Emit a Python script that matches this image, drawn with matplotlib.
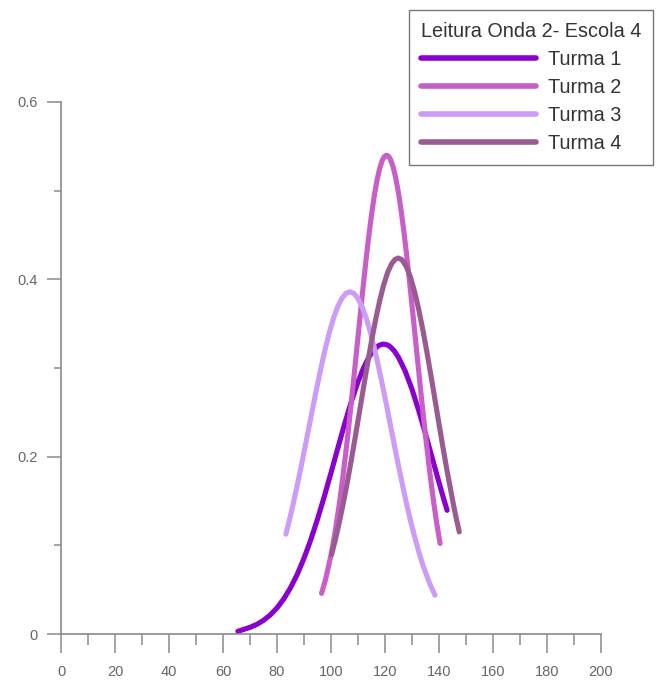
import matplotlib
matplotlib.use("Agg")
import matplotlib.pyplot as plt
from matplotlib.ticker import MultipleLocator, FuncFormatter

plt.rcParams['font.family'] = ['Liberation Sans', 'DejaVu Sans']

legend_title = "Leitura Onda 2- Escola 4"
series_names = ["Turma 1", "Turma 2", "Turma 3", "Turma 4"]
series_colors = ["#8a00cc", "#c95ec9", "#cc9cf7", "#9a5a92"]

turma1_x = [65.5, 67.5, 70, 72.5, 75, 77.5, 80, 82.5, 85, 87.5, 90, 92.5, 95, 97.5, 100, 102.5, 105,
            107.5, 110, 112, 114, 115.5, 117, 118, 119.5, 121, 122, 123.5, 125, 127.5, 130, 132.5,
            135, 137.5, 140, 141.5, 143]
turma1_y = [0.003, 0.005, 0.0075, 0.0108, 0.0154, 0.0215, 0.0294, 0.0395, 0.0521, 0.0673, 0.0854,
            0.1062, 0.1295, 0.1549, 0.1818, 0.2093, 0.2365, 0.2618, 0.2845, 0.2998, 0.312, 0.319,
            0.3238, 0.3259, 0.327, 0.3259, 0.3238, 0.319, 0.312, 0.2963, 0.276, 0.2519, 0.2257,
            0.1983, 0.171, 0.1549, 0.1395]

turma2_x = [96.5, 98, 100, 101.5, 103, 104.5, 106, 107.5, 109, 110.5, 112, 113, 114, 115, 116, 117, 118,
            119, 119.8, 120.6, 121.4, 122, 123, 124, 125, 126, 127, 128, 129, 130.5, 132, 133.5, 135,
            136.5, 138, 139, 140.4]
turma2_y = [0.0458, 0.0617, 0.089, 0.1147, 0.1448, 0.1796, 0.2183, 0.2605, 0.3049, 0.3501, 0.3944,
            0.4225, 0.4488, 0.4727, 0.4936, 0.5111, 0.5247, 0.5342, 0.5385, 0.540, 0.5385, 0.5355,
            0.5269, 0.5141, 0.4974, 0.4771, 0.4536, 0.428, 0.4001, 0.3561, 0.3109, 0.2663, 0.2238,
            0.1845, 0.1492, 0.1281, 0.1021]

turma3_x = [83.3, 84.5, 86, 87.5, 89, 90.5, 92, 93.5, 95, 96.5, 98, 99.5, 101, 102.5, 104, 105.5, 107,
            108.5, 110, 111.5, 113, 114.5, 116, 117.5, 119, 120.5, 122, 123.5, 125, 126.5, 128, 129.5,
            131, 132.5, 134, 136.5, 138.5]
turma3_y = [0.1126, 0.1272, 0.1467, 0.1677, 0.1897, 0.2125, 0.2357, 0.2589, 0.2815, 0.3031, 0.3232,
            0.3412, 0.3567, 0.3692, 0.3784, 0.3841, 0.386, 0.3841, 0.3784, 0.3692, 0.3567, 0.3412,
            0.3232, 0.3031, 0.2815, 0.2589, 0.2357, 0.2125, 0.1897, 0.1677, 0.1467, 0.1272, 0.1092,
            0.0928, 0.078, 0.0573, 0.0438]

turma4_x = [100.2, 101.5, 103, 104.5, 106, 107.5, 109, 110.5, 112, 113.5, 115, 116.5, 118, 119.5, 121,
            122.5, 123.7, 124.9, 126.1, 126.5, 128, 129.5, 131, 132.5, 134, 135.5, 137, 138.5, 140,
            141.5, 143, 145.5, 146.5, 147.5]
turma4_y = [0.0894, 0.1049, 0.1248, 0.1467, 0.1705, 0.1958, 0.2225, 0.2498, 0.2773, 0.3043, 0.3302,
            0.3542, 0.3755, 0.3936, 0.4079, 0.4178, 0.4224, 0.424, 0.4224, 0.4212, 0.4137, 0.4017,
            0.3856, 0.3659, 0.3433, 0.3183, 0.2918, 0.2645, 0.237, 0.2099, 0.1838, 0.1436, 0.129,
            0.1152]

xs = [turma1_x, turma2_x, turma3_x, turma4_x]
ys = [turma1_y, turma2_y, turma3_y, turma4_y]

W, H = 663, 686
fig = plt.figure(figsize=(W / 100, H / 100), dpi=100)
ax = fig.add_axes([61 / W, (H - 634) / H, 540 / W, 532 / H])

for x, y, c, n in zip(xs, ys, series_colors, series_names):
    ax.plot(x, y, color=c, lw=3.7, solid_capstyle='round', solid_joinstyle='round', label=n)

ax.set_xlim(0, 200)
ax.set_ylim(0, 0.6)
ax.xaxis.set_major_locator(MultipleLocator(20))
ax.xaxis.set_minor_locator(MultipleLocator(10))
ax.yaxis.set_major_locator(MultipleLocator(0.2))
ax.yaxis.set_minor_locator(MultipleLocator(0.1))
ax.xaxis.set_major_formatter(FuncFormatter(lambda v, p: f"{v:g}"))
ax.yaxis.set_major_formatter(FuncFormatter(lambda v, p: f"{v:g}"))

gray = "#8a8a8a"
for s in ["top", "right"]:
    ax.spines[s].set_visible(False)
for s in ["left", "bottom"]:
    ax.spines[s].set_color(gray)
    ax.spines[s].set_linewidth(1.2)

ax.tick_params(axis='x', which='major', direction='out', length=14, width=1.1, color=gray,
               labelsize=10.5, labelcolor="#666666", pad=8)
ax.tick_params(axis='x', which='minor', direction='out', length=8, width=1.1, color=gray)
ax.tick_params(axis='y', which='major', direction='out', length=10, width=1.1, color=gray,
               labelsize=10.5, labelcolor="#666666", pad=7)
ax.tick_params(axis='y', which='minor', direction='out', length=5, width=1.1, color=gray)

leg = ax.legend(title=legend_title, loc='upper right', alignment='left',
                bbox_to_anchor=(653 / W, 1 - 10 / H), bbox_transform=fig.transFigure,
                borderaxespad=0, fancybox=False, frameon=True, fontsize=14.3,
                title_fontsize=14.3, handlelength=5.8, handletextpad=0.6,
                labelspacing=0.45, borderpad=0.6)
leg.get_frame().set_edgecolor("#555555")
leg.get_frame().set_linewidth(1.0)
for t in leg.get_texts():
    t.set_color("#333333")
leg.get_title().set_color("#333333")
for h in leg.get_lines():
    h.set_linewidth(4.0)

fig.savefig("out.png", dpi=100)
